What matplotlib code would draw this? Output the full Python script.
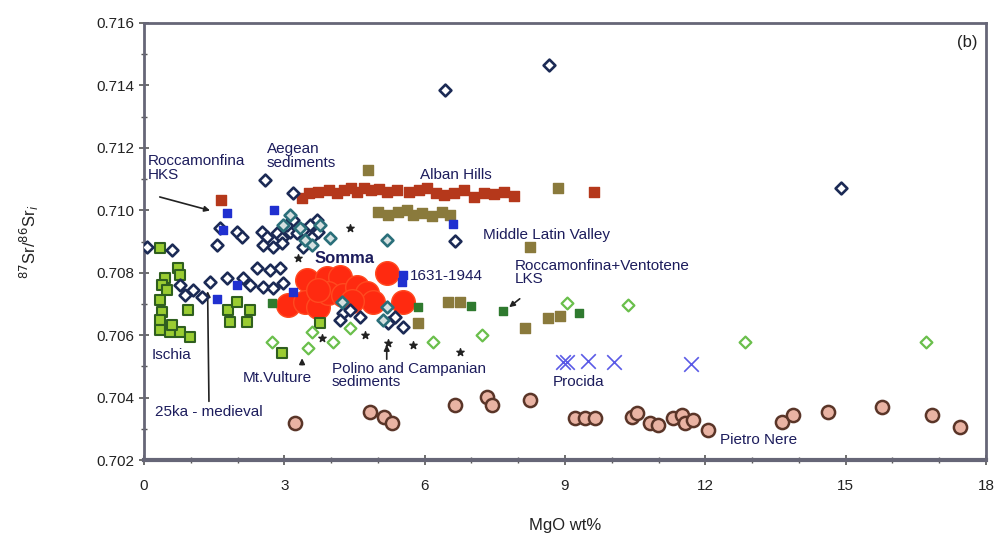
import numpy as np
import matplotlib
matplotlib.use("Agg")
import matplotlib.pyplot as plt
from matplotlib.ticker import MultipleLocator, FormatStrFormatter

plt.rcParams['font.family'] = ['Liberation Sans', 'DejaVu Sans']

# Alban Hills (brown-red squares)
alban_x = [1.65, 3.37, 3.52, 3.73, 3.95, 4.12, 4.27, 4.42, 4.55, 4.70, 4.85, 5.02, 5.19,
           5.41, 5.67, 5.88, 6.05, 6.24, 6.42, 6.63, 6.85, 7.06, 7.27, 7.49, 7.70, 7.92, 9.62]
alban_y = [0.71033, 0.71039, 0.71055, 0.71059, 0.71065, 0.71055, 0.71065, 0.71071, 0.71059,
           0.71071, 0.71065, 0.71068, 0.71059, 0.71065, 0.71059, 0.71065, 0.71071, 0.71055,
           0.71049, 0.71055, 0.71065, 0.71044, 0.71055, 0.71052, 0.71059, 0.71047, 0.71059]

# Middle Latin Valley (olive squares)
mlv_x = [4.79, 5.00, 5.21, 5.43, 5.62, 5.75, 5.94, 6.15, 6.37, 6.54, 8.85, 8.25,
         6.50, 6.75, 8.14, 8.63, 8.89, 5.85]
mlv_y = [0.71129, 0.70994, 0.70985, 0.70994, 0.71001, 0.70985, 0.70991, 0.70982, 0.70994,
         0.70985, 0.71071, 0.70882, 0.70706, 0.70706, 0.70623, 0.70655, 0.70661, 0.70639]

# Roccamonfina + Ventotene LKS (dark green squares)
lks_x = [2.74, 5.85, 6.99, 7.67, 9.29]
lks_y = [0.70703, 0.70690, 0.70693, 0.70677, 0.70671]

# Ischia (light green squares)
ischia_x = [0.34, 0.73, 0.77, 0.45, 0.38, 0.49, 0.34, 0.38, 0.94, 0.34, 0.34, 0.56,
            0.77, 0.98, 0.60, 1.79, 1.84, 1.99, 2.20, 2.26, 2.95, 3.76]
ischia_y = [0.70879, 0.70815, 0.70793, 0.70783, 0.70761, 0.70745, 0.70713, 0.70674,
            0.70680, 0.70648, 0.70616, 0.70610, 0.70610, 0.70594, 0.70632, 0.70680,
            0.70642, 0.70706, 0.70642, 0.70680, 0.70543, 0.70639]

# Somma (large red circles)
somma_x = [3.48, 3.08, 3.44, 3.72, 3.91, 4.19, 3.93, 4.25, 4.55, 4.76, 4.89, 5.19, 5.53, 3.72, 4.44]
somma_y = [0.70777, 0.70696, 0.70706, 0.70690, 0.70783, 0.70786, 0.70735, 0.70729, 0.70754,
           0.70735, 0.70706, 0.70799, 0.70706, 0.70745, 0.70710]

# Roccamonfina HKS / 1631-1944 (blue squares)
blue_x = [1.77, 1.69, 2.78, 1.99, 1.56, 3.18, 5.53, 5.51, 6.60]
blue_y = [0.70991, 0.70937, 0.71001, 0.70761, 0.70716, 0.70738, 0.70793, 0.70770, 0.70956]

# Vesuvius (open navy diamonds)
ves_x = [0.06, 0.60, 2.59, 3.18, 1.62, 1.99, 2.09, 1.56, 2.52, 2.63, 2.84, 2.95, 3.12,
         3.27, 3.40, 3.59, 3.72, 2.54, 2.76, 2.95, 3.40, 3.06, 3.18, 3.55, 3.70, 2.41,
         2.69, 2.91, 1.77, 1.41, 0.77, 0.88, 1.05, 1.24, 2.12, 2.26, 2.54, 2.76, 2.97,
         4.25, 4.40, 4.19, 4.62, 5.21, 5.53, 5.36, 6.65, 6.43, 8.65, 14.91]
ves_y = [0.70882, 0.70873, 0.71097, 0.71055, 0.70943, 0.70930, 0.70914, 0.70889, 0.70930,
         0.70914, 0.70927, 0.70911, 0.70930, 0.70927, 0.70937, 0.70914, 0.70930, 0.70889,
         0.70882, 0.70895, 0.70882, 0.70953, 0.70969, 0.70953, 0.70969, 0.70815, 0.70809,
         0.70815, 0.70783, 0.70770, 0.70761, 0.70729, 0.70745, 0.70722, 0.70783, 0.70761,
         0.70754, 0.70751, 0.70767, 0.70671, 0.70680, 0.70648, 0.70658, 0.70639, 0.70626,
         0.70658, 0.70902, 0.71385, 0.71465, 0.71071]

# Aegean sediments (teal diamonds)
aeg_x = [2.97, 3.12, 3.33, 3.44, 3.59, 3.76, 3.97, 5.19, 4.23, 5.19, 5.11]
aeg_y = [0.70953, 0.70985, 0.70943, 0.70905, 0.70889, 0.70953, 0.70911, 0.70905,
         0.70706, 0.70690, 0.70648]

# Mt. Vulture (open light green diamonds)
vult_x = [2.74, 3.50, 3.59, 4.04, 4.40, 6.18, 7.22, 9.04, 10.34, 12.84, 16.71]
vult_y = [0.70578, 0.70559, 0.70610, 0.70578, 0.70623, 0.70578, 0.70600, 0.70703,
          0.70696, 0.70578, 0.70578]

# Polino and Campanian sediments (small dark stars)
pol_x = [3.80, 4.72, 5.75, 6.75, 5.21, 3.29, 4.40]
pol_y = [0.70591, 0.70600, 0.70568, 0.70546, 0.70575, 0.70847, 0.70943]

# Procida (blue crosses)
proc_x = [8.95, 9.04, 9.49, 10.04, 11.69]
proc_y = [0.70514, 0.70514, 0.70517, 0.70514, 0.70507]

# Pietro Nere (pink circles)
pn_x = [3.22, 4.83, 5.13, 5.30, 6.65, 7.33, 7.44, 8.25, 9.21, 9.42, 9.64, 10.43, 10.53,
        10.81, 10.98, 11.30, 11.50, 11.56, 11.73, 12.05, 13.63, 13.87, 14.62, 15.77,
        16.84, 17.44]
pn_y = [0.70318, 0.70354, 0.70338, 0.70318, 0.70376, 0.70402, 0.70376, 0.70392, 0.70334,
        0.70334, 0.70334, 0.70338, 0.70350, 0.70318, 0.70312, 0.70334, 0.70344, 0.70318,
        0.70328, 0.70296, 0.70322, 0.70344, 0.70354, 0.70370, 0.70344, 0.70306]

navy = '#1c1c5c'

fig = plt.figure(figsize=(9.97, 5.41), dpi=100)
ax = fig.add_axes([0.1444, 0.1497, 0.8445, 0.8078])

ax.scatter(somma_x, somma_y, s=290, marker='o', color='#ff2a10', edgecolors='#ff4a20', zorder=2)
ax.scatter(pn_x, pn_y, s=90, marker='o', color='#e9b3a3', edgecolors='#5a3528', linewidths=1.8, zorder=3)
ax.scatter(alban_x, alban_y, s=50, marker='s', color='#b5381b', zorder=3)
ax.scatter(mlv_x, mlv_y, s=45, marker='s', color='#8a7a3c', zorder=3)
ax.scatter(lks_x, lks_y, s=35, marker='s', color='#2f7a2f', zorder=3)
ax.scatter(ischia_x, ischia_y, s=50, marker='s', color='#9acd32', edgecolors='#2f5f1f', linewidths=1.5, zorder=3)
ax.scatter(ves_x, ves_y, s=36, marker='D', color='white', edgecolors='#1b2a55', linewidths=1.9, zorder=4)
ax.scatter(aeg_x, aeg_y, s=36, marker='D', color='#d5e0e0', edgecolors='#2a6f7a', linewidths=1.9, zorder=4)
ax.scatter(vult_x, vult_y, s=36, marker='D', color='white', edgecolors='#6abf4b', linewidths=1.6, zorder=4)
ax.scatter(blue_x, blue_y, s=40, marker='s', color='#2030d0', zorder=5)
ax.scatter(pol_x, pol_y, s=30, marker='*', color='#222222', zorder=5)
ax.scatter(proc_x, proc_y, s=110, marker='x', color='#5a5ae6', linewidths=1.2, zorder=5)

# labels
fs = 11
ax.text(0.08, 0.7118, 'Roccamonfina\nHKS', color=navy, fontsize=fs, va='top', ha='left', linespacing=1.0)
ax.annotate('', xy=(1.47, 0.70997), xytext=(0.28, 0.71045),
            arrowprops=dict(arrowstyle='-|>', color='#222222', lw=1.2, mutation_scale=8))
ax.text(2.63, 0.7122, 'Aegean\nsediments', color=navy, fontsize=fs, va='top', ha='left', linespacing=1.0)
ax.text(5.90, 0.71113, 'Alban Hills', color=navy, fontsize=fs, va='center', ha='left')
ax.text(7.24, 0.70921, 'Middle Latin Valley', color=navy, fontsize=fs, va='center', ha='left')
ax.text(3.65, 0.70847, 'Somma', color=navy, fontsize=fs + 1, fontweight='bold', va='center', ha='left')
ax.text(5.68, 0.70789, '1631-1944', color=navy, fontsize=fs, va='center', ha='left')
ax.text(7.93, 0.70845, 'Roccamonfina+Ventotene\nLKS', color=navy, fontsize=fs, va='top', ha='left', linespacing=0.9)
ax.annotate('', xy=(7.76, 0.70684), xytext=(8.08, 0.70722),
            arrowprops=dict(arrowstyle='-|>', color='#222222', lw=1.2, mutation_scale=8))
ax.text(0.17, 0.70536, 'Ischia', color=navy, fontsize=fs, va='center', ha='left')
ax.text(0.24, 0.70354, '25ka - medieval', color=navy, fontsize=fs, va='center', ha='left')
ax.annotate('', xy=(1.36, 0.7075), xytext=(1.39, 0.70379),
            arrowprops=dict(arrowstyle='-|>', color='#222222', lw=1.2, mutation_scale=8))
ax.text(2.12, 0.70464, 'Mt.Vulture', color=navy, fontsize=fs, va='center', ha='left')
ax.annotate('', xy=(3.38, 0.70535), xytext=(3.38, 0.70497),
            arrowprops=dict(arrowstyle='-|>', color='#222222', lw=1.2, mutation_scale=8))
ax.text(4.02, 0.70515, 'Polino and Campanian\nsediments', color=navy, fontsize=fs, va='top', ha='left', linespacing=0.9)
ax.annotate('', xy=(5.19, 0.70578), xytext=(5.19, 0.70514),
            arrowprops=dict(arrowstyle='-|>', color='#222222', lw=1.2, mutation_scale=8))
ax.text(8.74, 0.70450, 'Procida', color=navy, fontsize=fs, va='center', ha='left')
ax.text(12.31, 0.70264, 'Pietro Nere', color=navy, fontsize=fs, va='center', ha='left')
ax.text(17.81, 0.71539, '(b)', color='#222222', fontsize=fs + 1, va='center', ha='right')

ax.set_xlim(0, 18)
ax.set_ylim(0.702, 0.716)
ax.xaxis.set_major_locator(MultipleLocator(3))
ax.xaxis.set_minor_locator(MultipleLocator(1))
ax.yaxis.set_major_locator(MultipleLocator(0.002))
ax.yaxis.set_minor_locator(MultipleLocator(0.001))
ax.yaxis.set_major_formatter(FormatStrFormatter('%.3f'))
ax.tick_params(which='both', direction='inout', colors='#555555', labelcolor='#222222', labelsize=11)
ax.tick_params(which='major', length=7, width=1.2)
ax.tick_params(which='minor', length=4, width=1)
ax.tick_params(axis='x', pad=10)
for side in ['left', 'right', 'top']:
    ax.spines[side].set_color('#666677')
    ax.spines[side].set_linewidth(2)
ax.spines['bottom'].set_color('#666677')
ax.spines['bottom'].set_linewidth(3)

ax.set_xlabel('MgO wt%', fontsize=12, color='#222222', labelpad=18)
ax.set_ylabel(r'$^{87}$Sr/$^{86}$Sr$_i$', fontsize=12, color='#222222', labelpad=40)

plt.savefig('out.png', dpi=100)
